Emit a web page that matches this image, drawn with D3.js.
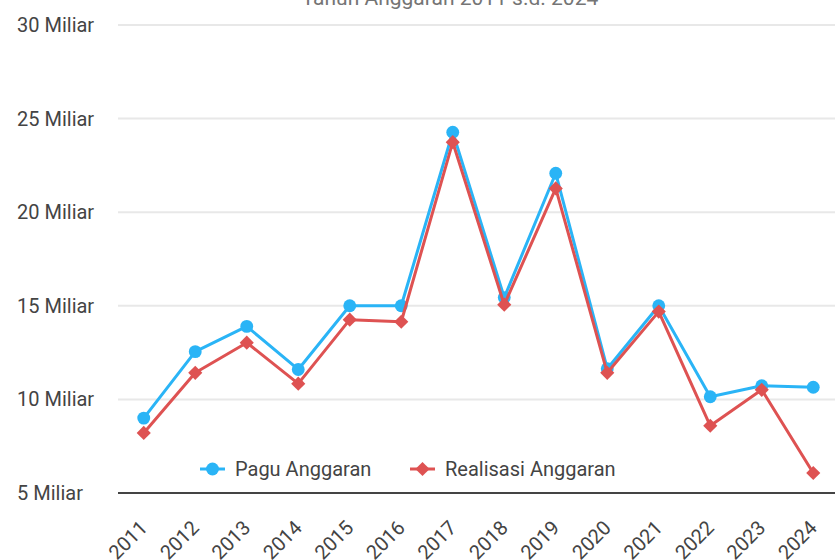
<!DOCTYPE html>
<html>
<head>
<meta charset="utf-8">
<script src="https://cdn.jsdelivr.net/npm/d3@7"></script>
<style>
  body { margin: 0; background: #fff; }
  svg { display: block; font-family: Roboto, "Noto Sans", sans-serif; }
</style>
</head>
<body>
<div class="canvas"></div>
<script>
const years = ["2011","2012","2013","2014","2015","2016","2017","2018","2019","2020","2021","2022","2023","2024"]
const pagu = [9.0, 12.55, 13.9, 11.6, 15.0, 15.0, 24.27, 15.44, 22.08, 11.64, 15.0, 10.14, 10.73, 10.65]
const realisasi = [8.21, 11.42, 13.03, 10.84, 14.26, 14.15, 23.74, 15.06, 21.27, 11.42, 14.69, 8.59, 10.51, 6.07]
const yTicks = [5, 10, 15, 20, 25, 30]
const seriesNames = ["Pagu Anggaran", "Realisasi Anggaran"]
const title = "Tahun Anggaran 2011 s.d. 2024"

const width = 835
const height = 560

const svg = d3.select(".canvas")
    .append("svg")
    .attr("width", width)
    .attr("height", height)

// plot area runs a bit past the right edge, like the original
const margin = {left: 118, right: -4, top: 25, bottom: 67}

const xScale = d3.scaleBand()
    .domain(years)
    .range([margin.left, width - margin.right])
    .padding(0)

const xPos = d => xScale(d) + xScale.bandwidth() / 2

const yScale = d3.scaleLinear()
    .domain([5, 30])
    .range([height - margin.bottom, margin.top])

// title, mostly outside the top of the frame
svg.append("text")
    .attr("x", 450)
    .attr("y", 5)
    .attr("text-anchor", "middle")
    .attr("font-size", 21)
    .attr("fill", "#757575")
    .text(title)

// gridlines
svg.append("g")
    .selectAll("line")
    .data(yTicks.filter(t => t !== 5))
    .enter().append("line")
    .attr("x1", margin.left)
    .attr("x2", width)
    .attr("y1", d => yScale(d))
    .attr("y2", d => yScale(d))
    .attr("stroke", "#e8e8e8")
    .attr("stroke-width", 2)

// y labels (left aligned)
svg.append("g")
    .selectAll("text")
    .data(yTicks)
    .enter().append("text")
    .attr("x", 17)
    .attr("y", d => yScale(d) + 7)
    .attr("font-size", 20)
    .attr("fill", "#444")
    .text(d => d + " Miliar")

// baseline
svg.append("line")
    .attr("x1", margin.left)
    .attr("x2", width)
    .attr("y1", yScale(5))
    .attr("y2", yScale(5))
    .attr("stroke", "#444")
    .attr("stroke-width", 2)

// x labels rotated
svg.append("g")
    .selectAll("text")
    .data(years)
    .enter().append("text")
    .attr("text-anchor", "end")
    .attr("font-size", 20)
    .attr("fill", "#444")
    .attr("transform", d => `translate(${xPos(d) + 5}, ${yScale(5) + 36}) rotate(-45)`)
    .text(d => d)

const colors = ["#2ab4f6", "#de5252"]
const line = d3.line()
    .x((d, i) => xPos(years[i]))
    .y(d => yScale(d))

const circleSym = d3.symbol().type(d3.symbolCircle).size(130)
const squareSym = d3.symbol().type(d3.symbolSquare).size(100)

svg.append("path")
    .attr("d", line(pagu))
    .attr("fill", "none")
    .attr("stroke", colors[0])
    .attr("stroke-width", 3)
    .attr("stroke-linejoin", "round")

svg.append("g")
    .selectAll("path")
    .data(pagu)
    .enter().append("path")
    .attr("d", circleSym)
    .attr("transform", (d, i) => `translate(${xPos(years[i])}, ${yScale(d)})`)
    .attr("fill", colors[0])

svg.append("path")
    .attr("d", line(realisasi))
    .attr("fill", "none")
    .attr("stroke", colors[1])
    .attr("stroke-width", 3)
    .attr("stroke-linejoin", "round")

// diamonds = squares turned 45 degrees
svg.append("g")
    .selectAll("path")
    .data(realisasi)
    .enter().append("path")
    .attr("d", squareSym)
    .attr("transform", (d, i) => `translate(${xPos(years[i])}, ${yScale(d)}) rotate(45)`)
    .attr("fill", colors[1])

// legend
const legendX = [200, 410]
const legend = svg.selectAll(".legend")
    .data(seriesNames)
    .enter().append("g")
    .attr("class", "legend")
    .attr("transform", (d, i) => `translate(${legendX[i]}, 469)`)

legend.append("line")
    .attr("x1", 0).attr("x2", 25)
    .attr("stroke", (d, i) => colors[i])
    .attr("stroke-width", 3)

legend.append("path")
    .attr("d", (d, i) => i === 0 ? circleSym() : squareSym())
    .attr("transform", (d, i) => i === 0 ? "translate(12.5,0)" : "translate(12.5,0) rotate(45)")
    .attr("fill", (d, i) => colors[i])

legend.append("text")
    .attr("x", 35)
    .attr("y", 7)
    .attr("font-size", 20)
    .attr("fill", "#444")
    .text(d => d)
</script>
</body>
</html>
